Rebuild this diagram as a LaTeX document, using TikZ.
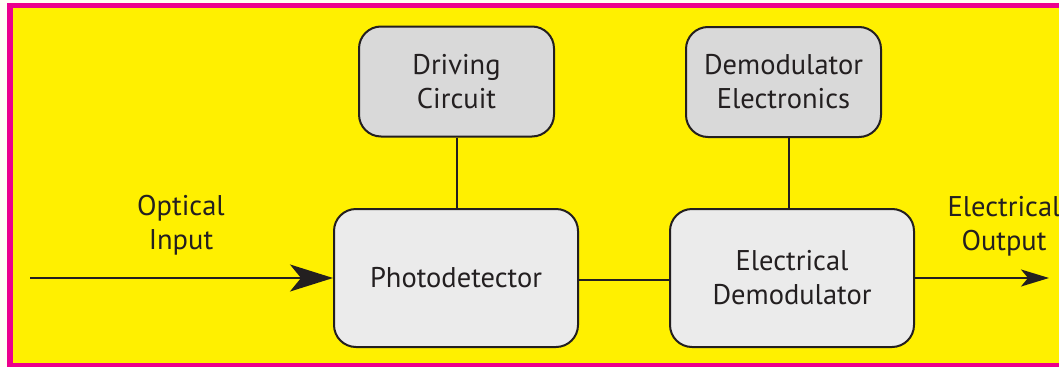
\documentclass[tikz,border=0pt]{standalone}
\usepackage{fontspec}
\setmainfont{PT Sans}
\usetikzlibrary{arrows.meta}
\definecolor{bgwhite}{RGB}{255,255,245}
\definecolor{magentaframe}{RGB}{236,0,140}
\definecolor{yellowbg}{RGB}{255,240,0}
\definecolor{ink}{RGB}{35,31,32}
\definecolor{topfill}{RGB}{217,217,217}
\definecolor{lowfill}{RGB}{235,235,235}
\tikzset{
  block/.style={draw=ink, line width=2pt, rounded corners=22pt, align=center,
    text=ink, font=\fontsize{28.5}{34}\selectfont, inner sep=0pt},
  upper/.style={block, fill=topfill, minimum width=195pt, minimum height=110pt},
  lower/.style={block, fill=lowfill, minimum width=244pt, minimum height=138pt},
  wire/.style={draw=ink, line width=2pt},
  lbl/.style={align=center, text=ink, font=\fontsize{28.5}{34}\selectfont, inner sep=0pt}
}
\begin{document}
\begin{tikzpicture}[x=1pt,y=-1pt]
\useasboundingbox (0,0) rectangle (1059,367);
\fill[bgwhite] (0,0) rectangle (1059,367);
\fill[magentaframe] (7,3) rectangle (1059,367);
\fill[yellowbg] (13,8) rectangle (1059,363);

\node[upper] (dc) at (456.5,81.5) {Driving\\Circuit};
\node[upper] (de) at (783.5,82) {Demodulator\\Electronics};
\node[lower] (pd) at (456,278) {Photodetector};
\node[lower] (ed) at (792,278) {Electrical\\Demodulator};

\draw[wire] (dc.south) -- (dc.south |- pd.north);
\draw[wire] ([xshift=5.5pt]de.south) -- ([xshift=5.5pt]de.south |- ed.north);
\draw[wire] ([yshift=-2pt]pd.east) -- ([yshift=-2pt]ed.west);

\coordinate (inp) at (30,278);
\coordinate (outp) at (1049,278);
\draw[wire, -{Stealth[length=43pt,width=27pt,inset=11pt]}] (inp) -- (pd.west);
\draw[wire, -{Stealth[length=28pt,width=17pt,inset=7pt]}] (ed.east) -- (outp);

\node[lbl] (oi) at (181,225) {Optical\\Input};
\node[lbl] (eo) at (1004,226) {Electrical\\Output};
\end{tikzpicture}
\end{document}
